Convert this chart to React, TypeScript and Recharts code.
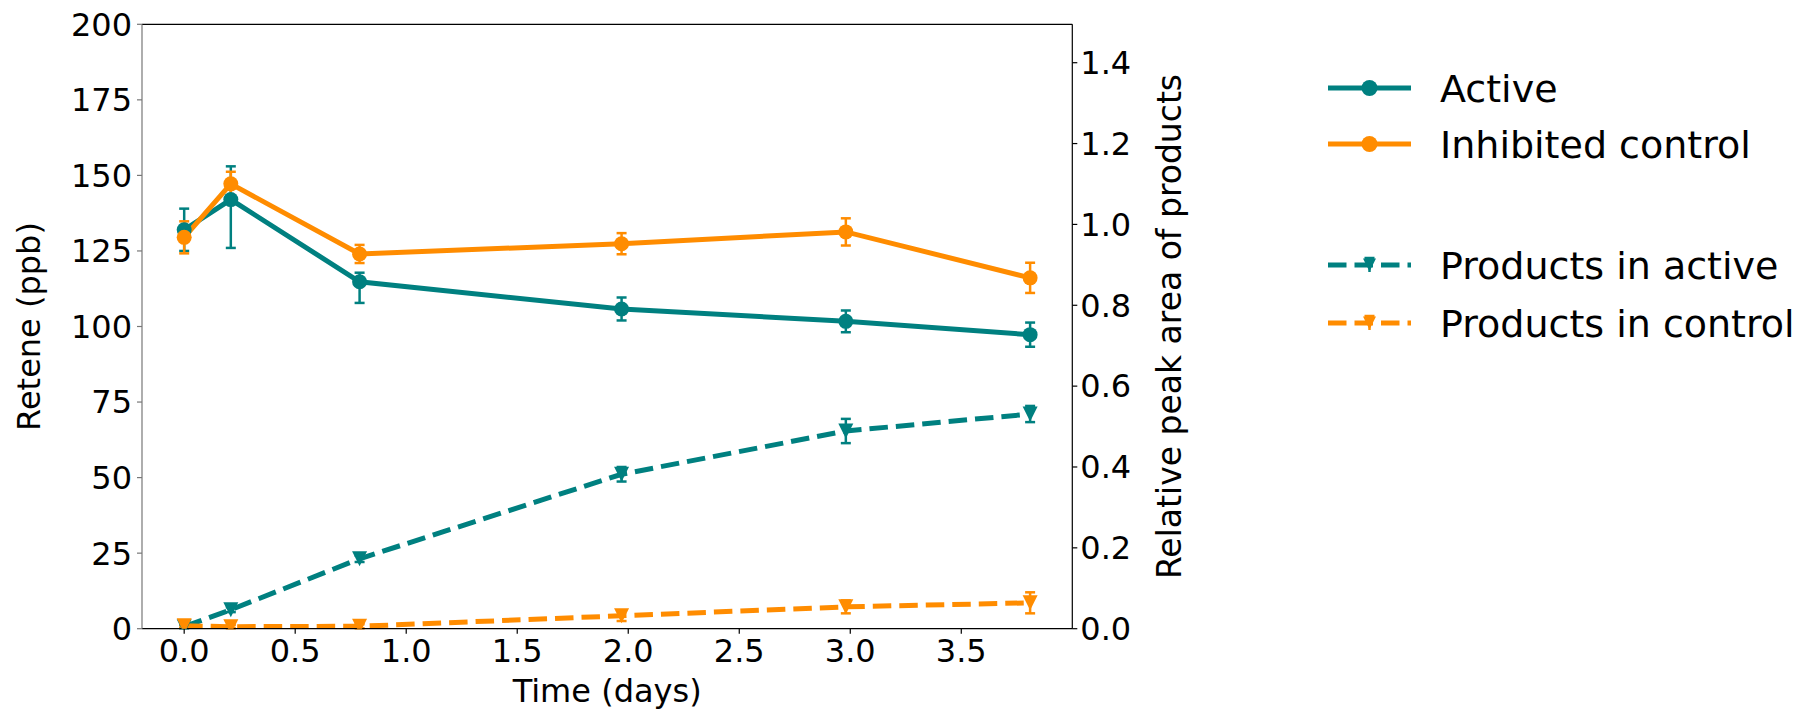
import React from 'react';
import {
  LineChart,
  Line,
  XAxis,
  YAxis,
  ErrorBar,
  ReferenceLine,
  Legend,
} from 'recharts';

const TEAL = '#008080';
const ORANGE = '#ff8c00';
const FONT = '"DejaVu Sans", sans-serif';

// sampling times (days)
const days = [0.0, 0.21, 0.79, 1.97, 2.98, 3.81];

// retene concentration (ppb), left axis; errors are [below, above]
const activeRetene = [132, 142, 114.8, 105.8, 101.7, 97.3];
const activeReteneErr = [[7, 7], [16, 11], [7, 3], [3.8, 3.8], [3.6, 3.6], [4, 4]];
const controlRetene = [129.5, 147.2, 124, 127.4, 131.3, 116.1];
const controlReteneErr = [[5.3, 5.3], [4, 4], [3, 3], [3.5, 3.5], [4.5, 4.5], [5, 5]];

// relative peak area of products, right axis
const productsActive = [0.005, 0.047, 0.173, 0.382, 0.489, 0.531];
const productsActiveErr = [0.004, 0.006, 0.008, 0.018, 0.03, 0.02];
const productsControl = [0.007, 0.005, 0.006, 0.032, 0.054, 0.064];
const productsControlErr = [0.004, 0.004, 0.005, 0.013, 0.016, 0.026];

const xTicks = [0, 0.5, 1, 1.5, 2, 2.5, 3, 3.5];
const leftTicks = [0, 25, 50, 75, 100, 125, 150, 175, 200];
const rightTicks = [0, 0.2, 0.4, 0.6, 0.8, 1.0, 1.2, 1.4];

const legendItems = [
  { label: 'Active', color: TEAL, dashed: false, y: 88 },
  { label: 'Inhibited control', color: ORANGE, dashed: false, y: 144 },
  { label: 'Products in active', color: TEAL, dashed: true, y: 265 },
  { label: 'Products in control', color: ORANGE, dashed: true, y: 323 },
];

const rows = days.map((d, i) => ({
  day: d,
  active: activeRetene[i],
  activeErr: activeReteneErr[i],
  control: controlRetene[i],
  controlErr: controlReteneErr[i],
  prodActive: productsActive[i],
  prodActiveErr: productsActiveErr[i],
  prodControl: productsControl[i],
  prodControlErr: productsControlErr[i],
}));

const W = 1810;
const H = 712;
const PLOT_LEFT = 142;
const PLOT_RIGHT = 1072.3;
const PLOT_TOP = 24.3;
const PLOT_BOTTOM = 628.7;
const RIGHT_AXIS_W = 130;

const tickStyle = { fontSize: 32, fill: '#000', fontFamily: FONT };

const circleDot = (color: string) => (p: any) => (
  <circle key={`c-${color}-${p.index}`} cx={p.cx} cy={p.cy} r={7.5} fill={color} stroke="none" />
);

const triangleDot = (color: string) => (p: any) => {
  const s = 7.5;
  const pts = `${p.cx - s},${p.cy - s} ${p.cx + s},${p.cy - s} ${p.cx},${p.cy + s}`;
  return <polygon key={`t-${color}-${p.index}`} points={pts} fill={color} stroke="none" />;
};

const LeftTitle = (props: any) => {
  const vb = props.viewBox;
  const cy = vb.y + vb.height / 2;
  const x = 40;
  return (
    <text x={x} y={cy} transform={`rotate(-90, ${x}, ${cy})`} textAnchor="middle"
      fontSize={32} fontFamily={FONT} fill="#000">
      Retene (ppb)
    </text>
  );
};

const RightTitle = (props: any) => {
  const vb = props.viewBox;
  const cy = vb.y + vb.height / 2;
  const x = 1181;
  return (
    <text x={x} y={cy} transform={`rotate(-90, ${x}, ${cy})`} textAnchor="middle"
      fontSize={33} fontFamily={FONT} fill="#000">
      Relative peak area of products
    </text>
  );
};

const BottomTitle = (props: any) => {
  const vb = props.viewBox;
  return (
    <text x={vb.x + vb.width / 2} y={702} textAnchor="middle" fontSize={32} fontFamily={FONT} fill="#000">
      Time (days)
    </text>
  );
};

// two-group legend drawn to the right of the plot
const renderLegend = () => (
  <svg width={500} height={380} style={{ display: 'block' }}>
    {legendItems.map((it) => {
      const x0 = 18;
      const x1 = 101;
      const mid = (x0 + x1) / 2;
      const y = it.y - 20;
      return (
        <g key={it.label}>
          {it.dashed ? (
            <>
              <line x1={x0} x2={x1} y1={y} y2={y} stroke={it.color} strokeWidth={5} strokeDasharray="18.5 8" />
              <line x1={mid} x2={mid} y1={y - 7} y2={y + 7} stroke={it.color} strokeWidth={2.5} />
              <line x1={mid - 5} x2={mid + 5} y1={y - 7} y2={y - 7} stroke={it.color} strokeWidth={2.5} />
              <polygon points={`${mid - 6.5},${y - 6.5} ${mid + 6.5},${y - 6.5} ${mid},${y + 6.5}`} fill={it.color} />
            </>
          ) : (
            <>
              <line x1={x0} x2={x1} y1={y} y2={y} stroke={it.color} strokeWidth={5} />
              <circle cx={mid} cy={y} r={8} fill={it.color} />
            </>
          )}
          <text x={130} y={y + 14} fontSize={38} fontFamily={FONT} fill="#000">
            {it.label}
          </text>
        </g>
      );
    })}
  </svg>
);

export default function App() {
  return (
    <div style={{ position: 'absolute', left: 0, top: 0, width: W, height: H, background: '#fff' }}>
      <LineChart
        width={W}
        height={H}
        data={rows}
        margin={{ top: PLOT_TOP, left: 0, right: W - PLOT_RIGHT - RIGHT_AXIS_W, bottom: 0 }}
        style={{ fontFamily: FONT }}
      >
        <XAxis
          dataKey="day"
          type="number"
          domain={[-0.19, 4.0]}
          ticks={xTicks}
          allowDataOverflow
          tickFormatter={(v: number) => v.toFixed(1)}
          height={H - PLOT_BOTTOM}
          tick={tickStyle}
          tickSize={5}
          tickMargin={6}
          stroke="#000"
          strokeWidth={1.2}
          label={<BottomTitle />}
        />
        <YAxis
          yAxisId="left"
          domain={[0, 200]}
          ticks={leftTicks}
          allowDataOverflow
          width={PLOT_LEFT}
          tick={tickStyle}
          tickSize={5}
          tickMargin={5}
          stroke="#777"
          strokeWidth={1.2}
          label={<LeftTitle />}
        />
        <YAxis
          yAxisId="right"
          orientation="right"
          domain={[0, 1.495]}
          ticks={rightTicks}
          allowDataOverflow
          width={RIGHT_AXIS_W}
          tickFormatter={(v: number) => v.toFixed(1)}
          tick={tickStyle}
          tickSize={5}
          tickMargin={3}
          stroke="#000"
          strokeWidth={1.2}
          label={<RightTitle />}
        />
        <ReferenceLine yAxisId="left" y={200} stroke="#000" strokeWidth={1.2} />

        <Line
          yAxisId="left"
          dataKey="active"
          stroke={TEAL}
          strokeWidth={5}
          dot={circleDot(TEAL)}
          activeDot={false}
          isAnimationActive={false}
        >
          <ErrorBar dataKey="activeErr" direction="y" width={5} stroke={TEAL} strokeWidth={2.5} />
        </Line>
        <Line
          yAxisId="left"
          dataKey="control"
          stroke={ORANGE}
          strokeWidth={5}
          dot={circleDot(ORANGE)}
          activeDot={false}
          isAnimationActive={false}
        >
          <ErrorBar dataKey="controlErr" direction="y" width={5} stroke={ORANGE} strokeWidth={2.5} />
        </Line>
        <Line
          yAxisId="right"
          dataKey="prodActive"
          stroke={TEAL}
          strokeWidth={5}
          strokeDasharray="18.5 8"
          dot={triangleDot(TEAL)}
          activeDot={false}
          isAnimationActive={false}
        >
          <ErrorBar dataKey="prodActiveErr" direction="y" width={5} stroke={TEAL} strokeWidth={2.5} />
        </Line>
        <Line
          yAxisId="right"
          dataKey="prodControl"
          stroke={ORANGE}
          strokeWidth={5}
          strokeDasharray="18.5 8"
          dot={triangleDot(ORANGE)}
          activeDot={false}
          isAnimationActive={false}
        >
          <ErrorBar dataKey="prodControlErr" direction="y" width={5} stroke={ORANGE} strokeWidth={2.5} />
        </Line>

        <Legend
          layout="vertical"
          align="center"
          verticalAlign="middle"
          content={renderLegend}
          wrapperStyle={{ position: 'absolute', left: 1310, top: 20, width: 500, height: 380 }}
        />
      </LineChart>
    </div>
  );
}
